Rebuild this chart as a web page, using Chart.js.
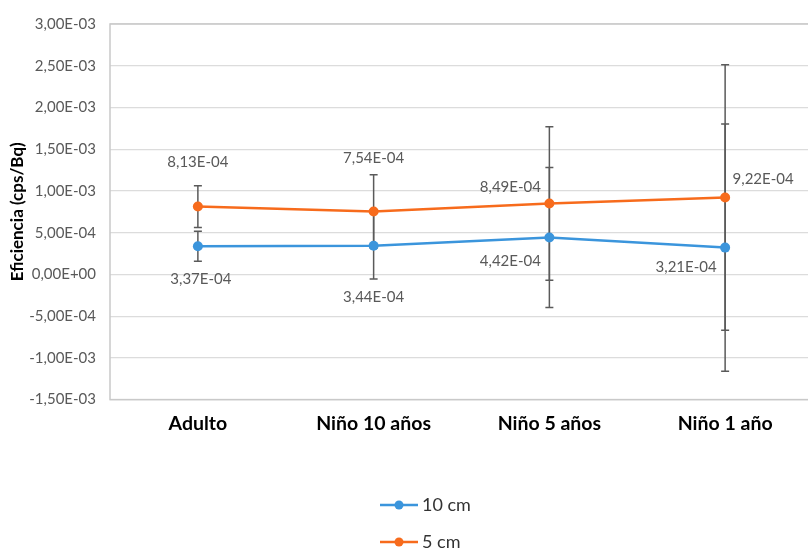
<!DOCTYPE html>
<html>
<head>
<meta charset="utf-8">
<script src="https://cdn.jsdelivr.net/npm/chart.js@4.4.0/dist/chart.umd.min.js"></script>
<style>
  html, body { margin: 0; padding: 0; background: #fff; overflow: hidden; }
  #wrap { width: 818px; height: 548px; }
</style>
</head>
<body>
<div id="wrap"><canvas id="cnv" width="818" height="548"></canvas></div>
<script>
"use strict";

// categories and series
const categories = ["Adulto", "Niño 10 años", "Niño 5 años", "Niño 1 año"];
const seriesNames = ["10 cm", "5 cm"];
const values10cm = [3.37e-4, 3.44e-4, 4.42e-4, 3.21e-4];
const values5cm  = [8.13e-4, 7.54e-4, 8.49e-4, 9.22e-4];
// symmetric error amounts
const errors10cm = [1.8e-4, 4.0e-4, 8.4e-4, 1.48e-3];
const errors5cm  = [2.5e-4, 4.4e-4, 9.2e-4, 1.59e-3];
const yTicks = [-1.5e-3, -1.0e-3, -5.0e-4, 0, 5.0e-4, 1.0e-3, 1.5e-3, 2.0e-3, 2.5e-3, 3.0e-3];

const BLUE = "#3b95dc";
const ORANGE = "#f76b1c";
const GREY_TXT = "#595959";
const FONT = "Lato, 'Noto Sans', sans-serif";

// excel style number: 8,13E-04
function sciLabel(v)
 {
   let s = v.toExponential(2);           // "8.13e-4"
   let parts = s.split("e");
   let exp = parseInt(parts[1], 10);
   let sign = exp < 0 ? "-" : "+";
   let e = String(Math.abs(exp)).padStart(2, "0");
   return parts[0].replace(".", ",") + "E" + sign + e;
 }

// where excel put each data label, relative to its point (px)
const labelOffsets = [
   [ [3, 33], [0, 51], [-39, 24], [-39, 20] ],      // 10 cm
   [ [0, -44], [0, -53], [-39, -16], [38, -18] ]    // 5 cm
];
const errorSets = [errors10cm, errors5cm];

const boxPlugin = {
  id: "plotBox",
  beforeDatasetsDraw(chart) {
    const ctx = chart.ctx, a = chart.chartArea;
    ctx.save();
    ctx.strokeStyle = "#c9c9c9";
    ctx.lineWidth = 1.5;
    ctx.strokeRect(a.left, a.top, a.right - a.left, a.bottom - a.top);
    ctx.restore();
  }
};

const errorBarPlugin = {
  id: "errorBars",
  beforeDatasetsDraw(chart) {
    const ctx = chart.ctx, ys = chart.scales.y;
    ctx.save();
    ctx.strokeStyle = "#5a5a5a";
    ctx.lineWidth = 1.5;
    chart.data.datasets.forEach((ds, di) => {
      const meta = chart.getDatasetMeta(di);
      meta.data.forEach((pt, i) => {
        const err = errorSets[di][i];
        const yTop = ys.getPixelForValue(ds.data[i] + err);
        const yBot = ys.getPixelForValue(ds.data[i] - err);
        ctx.beginPath();
        ctx.moveTo(pt.x, yTop); ctx.lineTo(pt.x, yBot);
        ctx.moveTo(pt.x - 4, yTop); ctx.lineTo(pt.x + 4, yTop);
        ctx.moveTo(pt.x - 4, yBot); ctx.lineTo(pt.x + 4, yBot);
        ctx.stroke();
      });
    });
    ctx.restore();
  }
};

const labelPlugin = {
  id: "pointLabels",
  afterDatasetsDraw(chart) {
    const ctx = chart.ctx;
    ctx.save();
    ctx.font = "15px " + FONT;
    ctx.fillStyle = GREY_TXT;
    ctx.textAlign = "center";
    ctx.textBaseline = "middle";
    chart.data.datasets.forEach((ds, di) => {
      chart.getDatasetMeta(di).data.forEach((pt, i) => {
        const off = labelOffsets[di][i];
        ctx.fillText(sciLabel(ds.data[i]), pt.x + off[0], pt.y + off[1]);
      });
    });
    ctx.restore();
  }
};

const extrasPlugin = {
  id: "extras",
  afterDraw(chart) {
    const ctx = chart.ctx, a = chart.chartArea;
    ctx.save();
    // y axis title, centred on the plot like excel
    ctx.translate(18, (a.top + a.bottom) / 2);
    ctx.rotate(-Math.PI / 2);
    ctx.font = "bold 17px " + FONT;
    ctx.fillStyle = "#000";
    ctx.textAlign = "center";
    ctx.textBaseline = "middle";
    ctx.fillText("Eficiencia (cps/Bq)", 0, 0);
    ctx.restore();

    // legend, stacked like excel
    ctx.save();
    ctx.font = "18px " + FONT;
    ctx.textBaseline = "middle";
    ctx.textAlign = "left";
    chart.data.datasets.forEach((ds, di) => {
      const y = 505 + di * 37;
      ctx.strokeStyle = ds.borderColor;
      ctx.lineWidth = 2.5;
      ctx.beginPath();
      ctx.moveTo(380, y); ctx.lineTo(418, y);
      ctx.stroke();
      ctx.fillStyle = ds.borderColor;
      ctx.beginPath();
      ctx.arc(399, y, 4.5, 0, Math.PI * 2);
      ctx.fill();
      ctx.fillStyle = "#333";
      ctx.fillText(ds.label, 422, y);
    });
    ctx.restore();
  }
};

new Chart(document.getElementById("cnv"), {
  type: "line",
  data: {
    labels: categories,
    datasets: [
      { label: seriesNames[0], data: values10cm, borderColor: BLUE, backgroundColor: BLUE,
        borderWidth: 2.5, pointRadius: 5, pointHoverRadius: 5, pointBorderWidth: 0 },
      { label: seriesNames[1], data: values5cm, borderColor: ORANGE, backgroundColor: ORANGE,
        borderWidth: 2.5, pointRadius: 5, pointHoverRadius: 5, pointBorderWidth: 0 }
    ]
  },
  options: {
    responsive: false,
    animation: false,
    layout: { padding: { top: 24, left: 0, right: 0, bottom: 101 } },
    plugins: { legend: { display: false }, tooltip: { enabled: false } },
    scales: {
      x: {
        offset: true,
        grid: { display: false, drawTicks: false },
        border: { display: false },
        ticks: { color: "#000", font: { family: FONT, size: 19.5, weight: "bold" }, padding: 12 }
      },
      y: {
        min: -1.5e-3,
        max: 3.0e-3,
        afterFit: (scale) => { scale.width = 110; },
        afterBuildTicks: (scale) => { scale.ticks = yTicks.map(v => ({ value: v })); },
        grid: { color: "#dcdcdc", lineWidth: 1.2, drawTicks: false },
        border: { display: false },
        ticks: {
          color: GREY_TXT,
          font: { family: FONT, size: 15 },
          padding: 14,
          callback: (v) => sciLabel(v)
        }
      }
    }
  },
  plugins: [boxPlugin, errorBarPlugin, labelPlugin, extrasPlugin]
});
</script>
</body>
</html>
